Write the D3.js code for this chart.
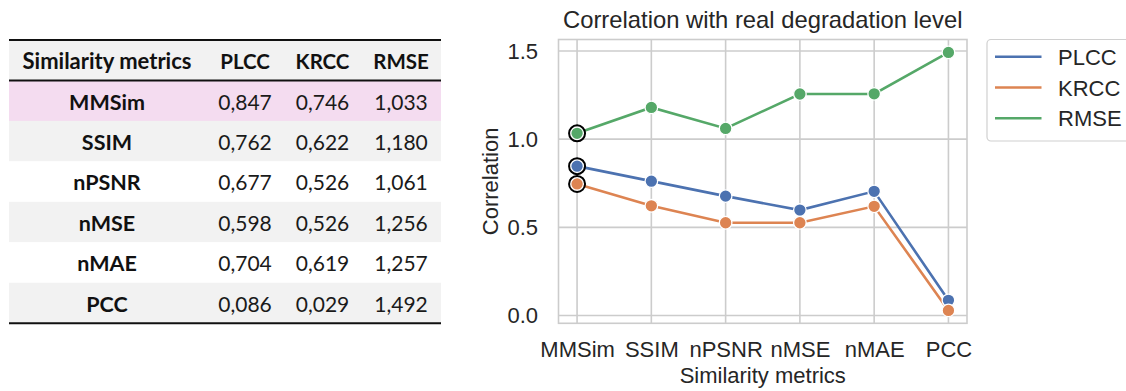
<!DOCTYPE html>
<html><head><meta charset="utf-8">
<script src="https://cdn.jsdelivr.net/npm/d3@7"></script>
<style>body{margin:0;background:#fff;} svg{display:block;}</style>
</head><body>
<svg id="c" width="1126" height="391"></svg>
<script>
const categories = ["MMSim","SSIM","nPSNR","nMSE","nMAE","PCC"];
const plcc = [0.847,0.762,0.677,0.598,0.704,0.086];
const krcc = [0.746,0.622,0.526,0.526,0.619,0.029];
const rmse = [1.033,1.180,1.061,1.256,1.257,1.492];
const seriesNames = ["PLCC","KRCC","RMSE"];
const yTicks = [0.0,0.5,1.0,1.5];
const tableHeader = ["Similarity metrics","PLCC","KRCC","RMSE"];
const highlightIndex = 0;

const svg = d3.select("#c");
const colors = ["#4c72b0","#dd8452","#55a868"];
const seriesVals = [plcc, krcc, rmse];
const fmt = v => v.toFixed(3).replace(".", ",");

// ---------- Table ----------
const tX0 = 9, tX1 = 441, tTop = 40, headH = 40.5, rowH = 40.45;
const colX = [107, 245, 322.5, 401];
const tbl = svg.append("g").attr("font-family","Lato, 'Open Sans', sans-serif");
tbl.append("rect").attr("x",tX0).attr("y",tTop).attr("width",tX1-tX0).attr("height",headH).attr("fill","#f2f2f2");
categories.forEach((c,i)=>{
  const y = tTop+headH+i*rowH;
  tbl.append("rect").attr("x",tX0).attr("y",y).attr("width",tX1-tX0).attr("height",rowH)
    .attr("fill", i===highlightIndex ? "#f4dcf0" : (i%2===1 ? "#f2f2f2" : "#ffffff"));
});
tableHeader.forEach((h,j)=>{
  tbl.append("text").attr("x",colX[j]).attr("y",tTop+29).attr("text-anchor","middle")
    .attr("font-size",j===0?22:20.5).attr("font-weight","bold").attr("fill","#111").text(h);
});
categories.forEach((c,i)=>{
  const yb = tTop+headH+i*rowH+29;
  tbl.append("text").attr("x",colX[0]).attr("y",yb).attr("text-anchor","middle")
    .attr("font-size",21.5).attr("font-weight","bold").attr("fill","#111").text(c);
  seriesVals.forEach((s,j)=>{
    tbl.append("text").attr("x",colX[j+1]).attr("y",yb).attr("text-anchor","middle")
      .attr("font-size",21).attr("fill","#1a1a1a").text(fmt(s[i]));
  });
});
[tTop, tTop+headH, tTop+headH+6*rowH].forEach(yy=>{
  tbl.append("line").attr("x1",tX0).attr("x2",tX1).attr("y1",yy).attr("y2",yy).attr("stroke","#111").attr("stroke-width",2);
});

// ---------- Chart ----------
const L = 558.5, R = 967, T = 39.5, B = 323.3;
const x = d3.scaleLinear().domain([-0.25, categories.length-1+0.25]).range([L,R]);
const allV = plcc.concat(krcc, rmse);
const lo = d3.min(allV), hi = d3.max(allV), pad = (hi-lo)*0.05;
const y = d3.scaleLinear().domain([lo-pad, hi+pad]).range([B,T]);
const FF = "'Liberation Sans', Arial, sans-serif";
const g = svg.append("g").attr("font-family",FF);

// grid
g.selectAll(".vg").data(categories).join("line")
  .attr("x1",(d,i)=>x(i)).attr("x2",(d,i)=>x(i)).attr("y1",T).attr("y2",B)
  .attr("stroke","#cccccc").attr("stroke-width",1.6);
g.selectAll(".hg").data(yTicks).join("line")
  .attr("x1",L).attr("x2",R).attr("y1",d=>y(d)).attr("y2",d=>y(d))
  .attr("stroke","#cccccc").attr("stroke-width",1.6);
g.append("rect").attr("x",L).attr("y",T).attr("width",R-L).attr("height",B-T)
  .attr("fill","none").attr("stroke","#cccccc").attr("stroke-width",1.6);

// axes text
const yAxis = d3.axisLeft(y).tickValues(yTicks).tickFormat(d3.format(".1f")).tickSize(0).tickPadding(20.5);
const ya = g.append("g").attr("transform",`translate(${L},0)`).call(yAxis);
ya.select(".domain").remove();
ya.selectAll("text").attr("font-size",22).attr("fill","#262626").attr("font-family",FF);
const xAxis = d3.axisBottom(x).tickValues(d3.range(categories.length)).tickFormat(i=>categories[i]).tickSize(0);
const xa = g.append("g").attr("transform",`translate(0,${B})`).call(xAxis);
xa.select(".domain").remove();
xa.selectAll("text").attr("y",34).attr("dy",0).attr("font-size",22).attr("fill","#262626").attr("font-family",FF);

g.append("text").attr("x",(L+R)/2).attr("y",27.5).attr("text-anchor","middle")
  .attr("font-size",23.8).attr("fill","#262626").text("Correlation with real degradation level");
g.append("text").attr("x",(L+R)/2).attr("y",383).attr("text-anchor","middle")
  .attr("font-size",22).attr("fill","#262626").text("Similarity metrics");
g.append("text").attr("transform",`translate(498,${(T+B)/2}) rotate(-90)`).attr("text-anchor","middle")
  .attr("font-size",22).attr("fill","#262626").text("Correlation");

// lines
const line = d3.line().x((d,i)=>x(i)).y(d=>y(d));
seriesVals.forEach((s,j)=>{
  g.append("path").datum(s).attr("d",line).attr("fill","none").attr("stroke",colors[j]).attr("stroke-width",2.6);
});
seriesVals.forEach((s,j)=>{
  g.selectAll(null).data(s).join("circle").attr("cx",(d,i)=>x(i)).attr("cy",d=>y(d)).attr("r",6.3)
    .attr("fill",colors[j]).attr("stroke","#fff").attr("stroke-width",1.3);
});
// highlight circles
seriesVals.forEach((s,j)=>{
  g.append("circle").attr("cx",x(highlightIndex)).attr("cy",y(s[highlightIndex])).attr("r",8)
    .attr("fill","none").attr("stroke","#000").attr("stroke-width",2);
});

// legend
const lg = g.append("g");
lg.append("rect").attr("x",987).attr("y",39.5).attr("width",160).attr("height",101.5).attr("rx",4)
  .attr("fill","#fff").attr("stroke","#d0d0d0").attr("stroke-width",1.2);
seriesNames.forEach((n,j)=>{
  const yy = 56.7 + j*30.8;
  lg.append("line").attr("x1",995).attr("x2",1041.5).attr("y1",yy).attr("y2",yy).attr("stroke",colors[j]).attr("stroke-width",2.6);
  lg.append("text").attr("x",1058).attr("y",yy+8).attr("font-size",22).attr("fill","#262626").text(n);
});
</script>
</body></html>
